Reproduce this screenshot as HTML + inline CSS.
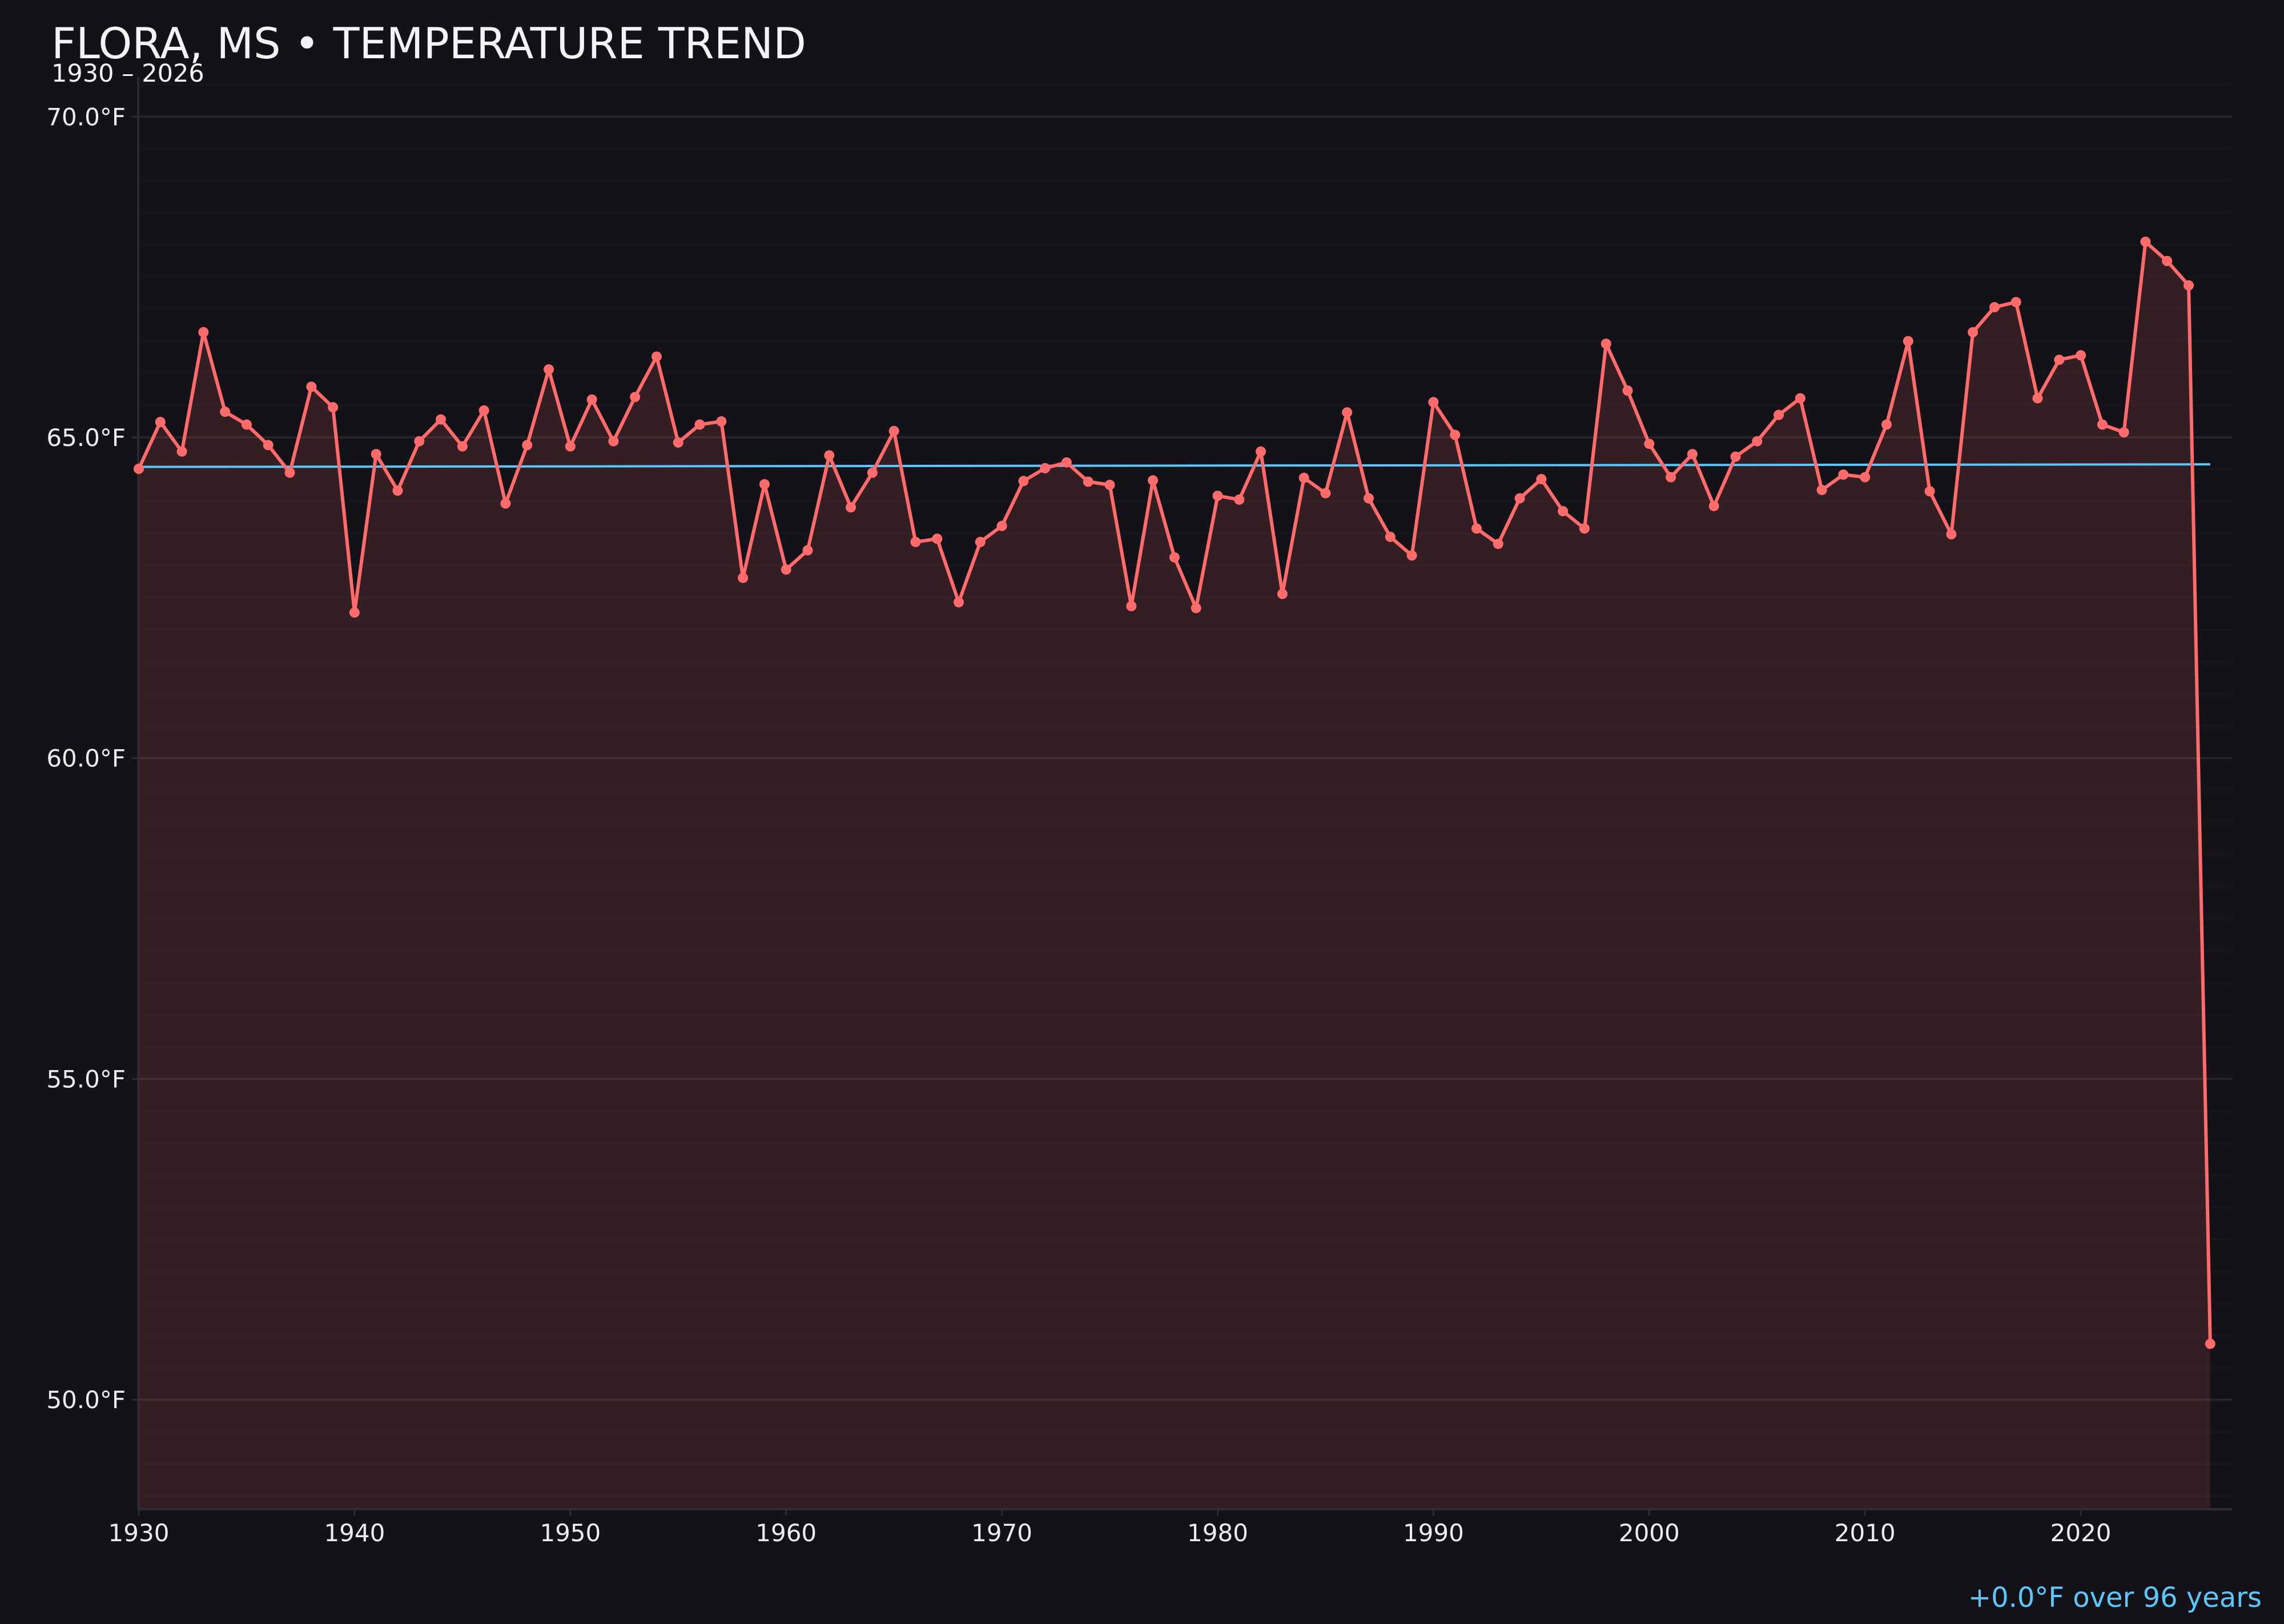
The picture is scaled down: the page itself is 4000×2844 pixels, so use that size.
<!DOCTYPE html>
<html><head><meta charset="utf-8"><style>
html,body{margin:0;padding:0;background:#121218;}
svg{display:block;}
text{font-family:"DejaVu Sans","Liberation Sans",sans-serif;}
</style></head><body>
<svg id="chart" width="4000" height="2844" viewBox="0 0 4000 2844" xmlns="http://www.w3.org/2000/svg">
<rect x="0" y="0" width="4000" height="2844" fill="#121218"/>
<text x="90" y="102" font-size="75" fill="#f2f2f7">FLORA, MS • TEMPERATURE TREND</text>
<text x="90" y="143" font-size="43" fill="#f2f2f7">1930 – 2026</text>
<g id="grid"></g>
<g id="fill"></g>
<g id="axes"></g>
<g id="trend"></g>
<g id="series"></g>
<text x="3961" y="2814" font-size="48" fill="#5ac8fa" text-anchor="end">+0.0°F over 96 years</text>
</svg>
<script>
const years = [];
for (let y = 1930; y <= 2026; y++) years.push(y);
const temps = [64.51,65.24,64.78,66.64,65.40,65.20,64.88,64.45,65.79,65.47,
62.27,64.74,64.17,64.94,65.28,64.86,65.42,63.97,64.88,66.06,
64.86,65.59,64.94,65.63,66.26,64.92,65.20,65.25,62.81,64.27,
62.94,63.24,64.72,63.91,64.45,65.10,63.37,63.42,62.43,63.37,
63.62,64.32,64.52,64.61,64.31,64.26,62.37,64.33,63.13,62.34,
64.09,64.03,64.78,62.56,64.37,64.13,65.39,64.05,63.45,63.16,
65.55,65.04,63.58,63.34,64.05,64.35,63.85,63.58,66.46,65.73,
64.90,64.38,64.74,63.93,64.70,64.94,65.35,65.61,64.18,64.42,
64.38,65.20,66.50,64.16,63.49,66.64,67.03,67.11,65.61,66.21,
66.28,65.20,65.08,68.05,67.75,67.37,50.87];
const trendYears = [1930, 2026];
const trendValues = [64.54, 64.58];
const yTicks = [50, 55, 60, 65, 70];
const yTickLabels = ["50.0°F","55.0°F","60.0°F","65.0°F","70.0°F"];
const xTicks = [1930,1940,1950,1960,1970,1980,1990,2000,2010,2020];

const NS = "http://www.w3.org/2000/svg";
const X0 = 243, PX_PER_YEAR = 37.79;
const Y65 = 766, PX_PER_DEG = 112.34;
const plotLeft = 242, plotRight = 3909, plotTop = 135, plotBottom = 2643;
const xs = v => X0 + (v - 1930) * PX_PER_YEAR;
const ys = v => Y65 - (v - 65) * PX_PER_DEG;
function mk(tag, attrs, parent) {
  const e = document.createElementNS(NS, tag);
  for (const k in attrs) e.setAttribute(k, attrs[k]);
  parent.appendChild(e);
  return e;
}
const grid = document.getElementById('grid');
for (let v = 48.5; v <= 70.5; v += 0.5) {
  const major = yTicks.includes(v);
  const l = mk('line', {x1: plotLeft, x2: plotRight, y1: ys(v), y2: ys(v), stroke: major ? '#29282e' : '#17161c', 'stroke-width': major ? 3 : 2}, grid);
  
  
}
const fillG = document.getElementById('fill');
let d = `M${xs(years[0])},${plotBottom}`;
years.forEach((yr, i) => { d += ` L${xs(yr)},${ys(temps[i])}`; });
d += ` L${xs(years[years.length-1])},${plotBottom} Z`;
const area = mk('path', {d: d, fill: '#ff6b6b', 'fill-opacity': 0.14}, fillG);


const axes = document.getElementById('axes');
const ya = mk('line', {x1: plotLeft, x2: plotLeft, y1: plotTop, y2: plotBottom, stroke: '#2e2d34', 'stroke-width': 3}, axes);


const xa = mk('line', {x1: plotLeft, x2: plotRight, y1: plotBottom, y2: plotBottom, stroke: '#2e2d34', 'stroke-width': 4}, axes);


yTicks.forEach((v, i) => {
  const t = mk('line', {x1: plotLeft - 11, x2: plotLeft, y1: ys(v), y2: ys(v), stroke: '#2e2d34', 'stroke-width': 3}, axes);
  
  
  const tx = mk('text', {x: 220, y: ys(v) + 15, 'font-size': 42, fill: '#ececf2', 'text-anchor': 'end'}, axes);
  tx.textContent = yTickLabels[i];
  
  
});
xTicks.forEach(v => {
  const t = mk('line', {x1: xs(v), x2: xs(v), y1: plotBottom, y2: plotBottom + 11, stroke: '#2e2d34', 'stroke-width': 3}, axes);
  
  
  const tx = mk('text', {x: xs(v), y: 2699, 'font-size': 42, fill: '#ececf2', 'text-anchor': 'middle'}, axes);
  tx.textContent = String(v);
  
  
});
const trendG = document.getElementById('trend');
const tl = mk('line', {x1: xs(trendYears[0]), x2: xs(trendYears[1]), y1: ys(trendValues[0]), y2: ys(trendValues[1]), stroke: '#5ac8fa', 'stroke-width': 4}, trendG);


const sG = document.getElementById('series');
const pts = years.map((yr, i) => `${xs(yr)},${ys(temps[i])}`).join(' ');
const pl = mk('polyline', {points: pts, fill: 'none', stroke: '#ff6b6b', 'stroke-width': 6, 'stroke-linejoin': 'round'}, sG);


years.forEach((yr, i) => {
  const c = mk('circle', {cx: xs(yr), cy: ys(temps[i]), r: 9, fill: '#ff6b6b'}, sG);
  
  
});
</script>
</body></html>
